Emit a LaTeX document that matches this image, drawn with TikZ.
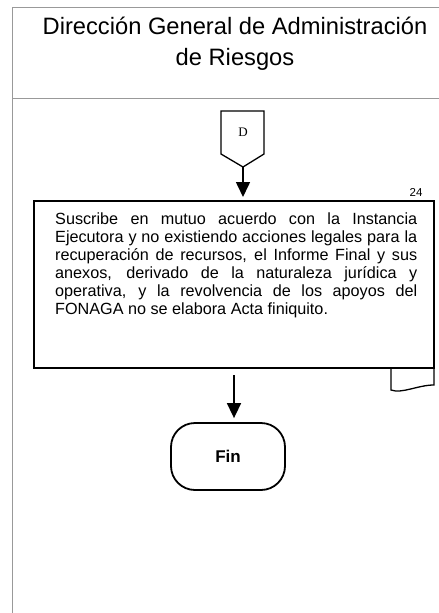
\documentclass[tikz,border=0pt]{standalone}
\usepackage{fontspec}
\setmainfont{Liberation Sans}
\newfontfamily\serifD{Liberation Serif}
\usetikzlibrary{arrows.meta}
\begin{document}
\begin{tikzpicture}[x=1pt,y=-1pt,
  frame/.style={draw=black!40, line width=0.9pt},
  arr/.style={-{Triangle[length=15pt,width=14pt]}, line width=1.6pt},
  titlefont/.style={font=\fontsize{23.7}{28}\selectfont, inner sep=0, anchor=base},
  procbox/.style={draw, line width=2pt, inner sep=0, anchor=north west},
  thinline/.style={line width=1.3pt}]
\useasboundingbox (0,0) rectangle (439,613);
% frame
\draw[frame] (439,7) -- (12,7) -- (12,613);
\draw[frame] (12,98) -- (439,98);
% title
\node[titlefont] (t1) at (235,34.5) {Dirección General de Administración};
\node[titlefont] (t2) at (235,65) {de Riesgos};
% off-page connector D
\draw[thinline] (221,111) -- (264,111) -- (264,154) -- (243,167) -- (221,154) -- cycle;
\coordinate (Dtip) at (243,167);
\node[font=\serifD\fontsize{13}{15}\selectfont] (D) at (243,132) {D};
% process box
\node[procbox, minimum width=400pt, minimum height=167pt] (box) at (33,200) {};
\node[font=\fontsize{11.5}{13}\selectfont, anchor=base] (num) at (416,196) {24};
\node[anchor=north west, inner sep=0, text width=362pt, align=justify,
      font=\fontsize{16.2}{18}\selectfont] (txt) at (55,212.2)
 {Suscribe en mutuo acuerdo con la Instancia\linebreak
  Ejecutora y no existiendo acciones legales para la\linebreak
  recuperación de recursos, el Informe Final y sus\linebreak
  anexos, derivado de la naturaleza jurídica y\linebreak
  operativa, y la revolvencia de los apoyos del\linebreak
  FONAGA no se elabora Acta finiquito.};
% document tab
\draw[thinline] (391,367) -- (391,390) .. controls (402,394) and (418,385) .. (434,385) -- (434,367);
% connectors
\draw[arr, shorten >=3pt] (Dtip) -- (box.north -| Dtip);
\coordinate (a2s) at (234,375);
% end
\node[draw, line width=1.8pt, rounded corners=24pt, minimum width=114pt, minimum height=67pt,
      font=\bfseries\fontsize{17}{20}\selectfont] (fin) at (228,456.5) {Fin};
\draw[arr, shorten >=4pt] (a2s) -- (fin.north -| a2s);
\end{tikzpicture}
\end{document}
